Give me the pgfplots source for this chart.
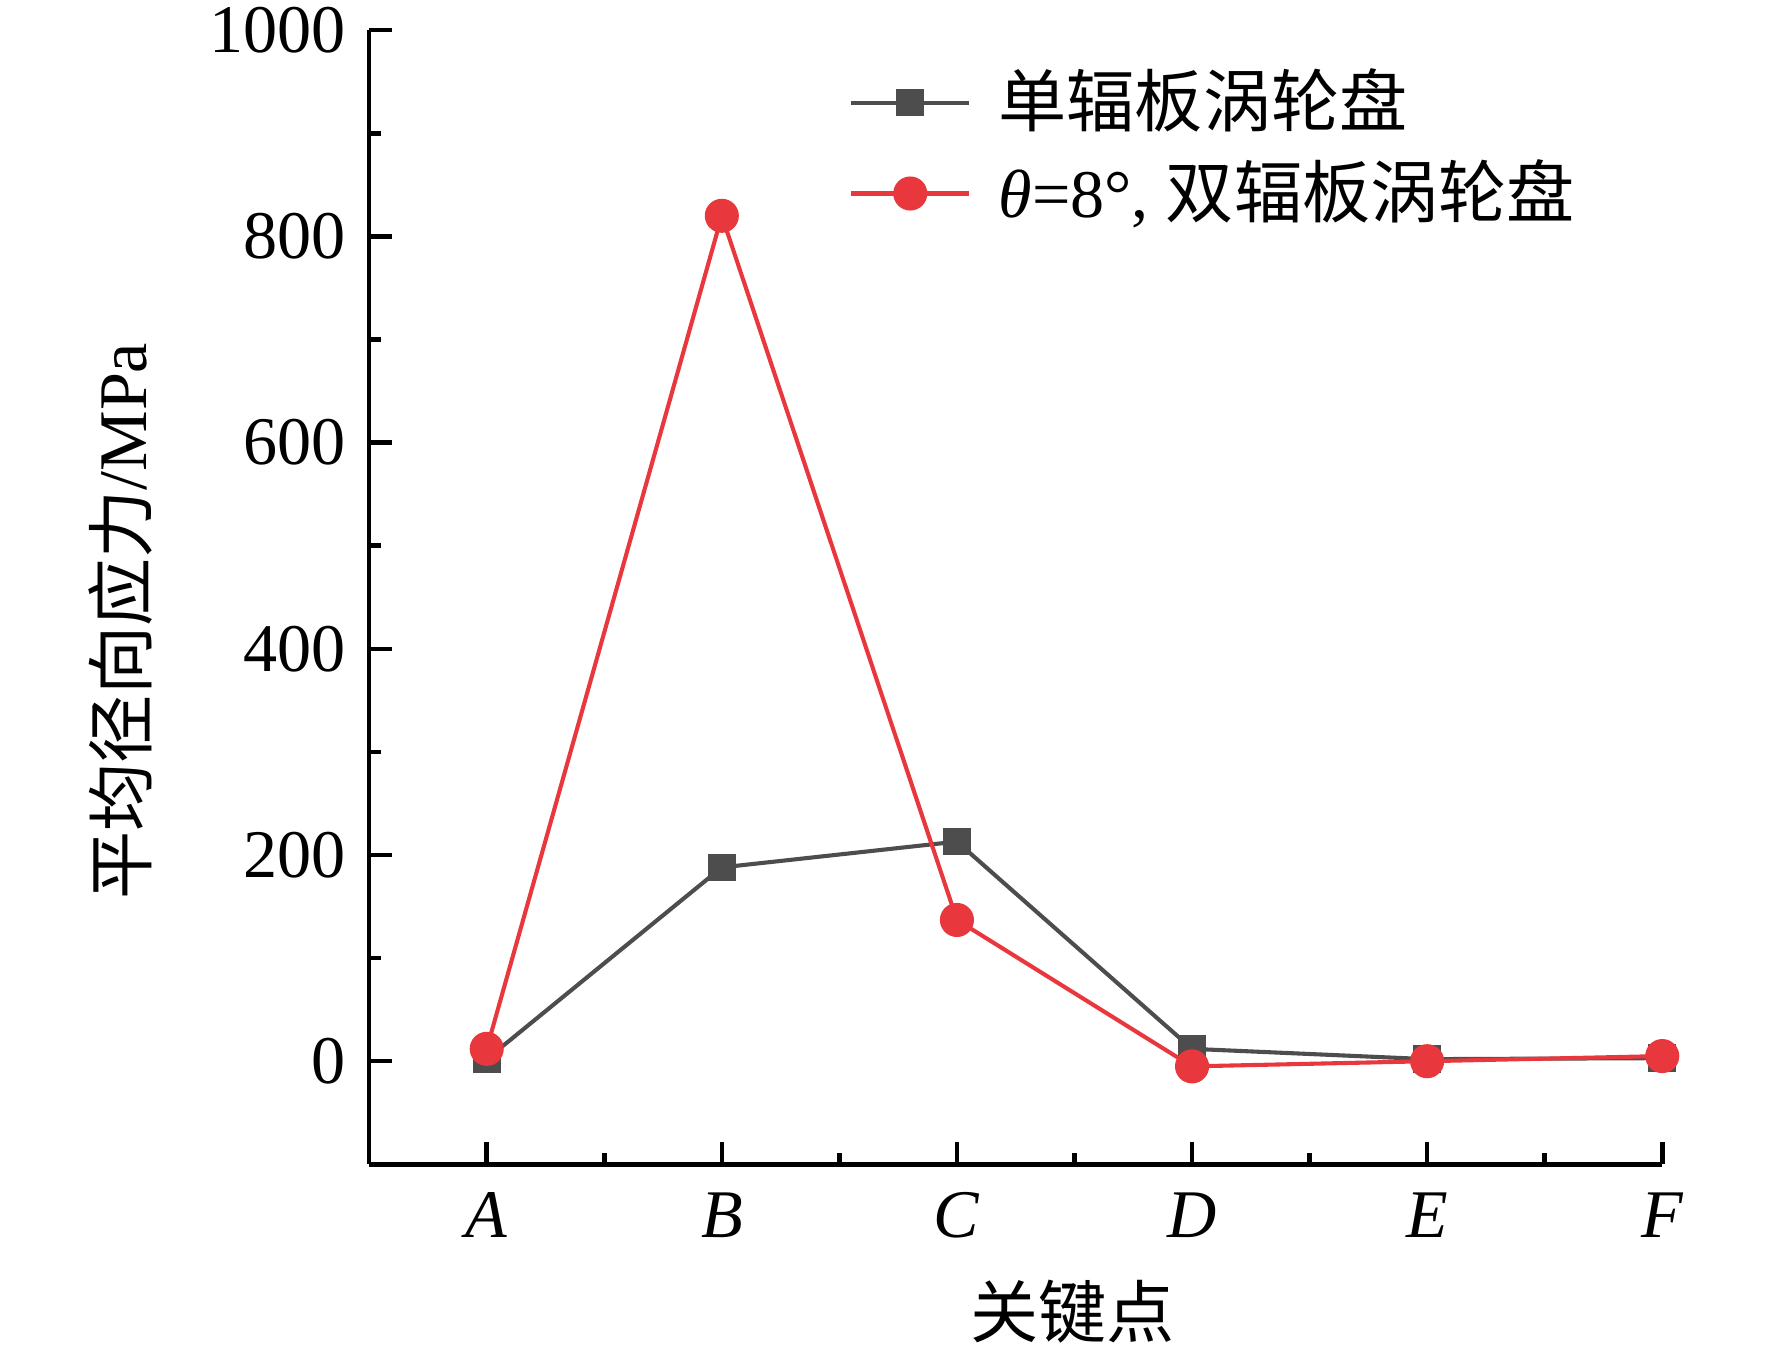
\documentclass[border=0pt]{standalone}
\usepackage{fontspec}
\setmainfont{Liberation Serif}
\newfontfamily\cjk{Noto Sans CJK SC}
\usepackage{pgfplots}
\pgfplotsset{compat=1.18}
\definecolor{sgray}{HTML}{4D4D4D}
\definecolor{sred}{HTML}{E8383D}
\begin{document}
\fontsize{15}{18}\selectfont
\begin{tikzpicture}
\begin{axis}[
  name=ax,
  scale only axis, width=284.6pt, height=249.6pt,
  xmin=-0.5, xmax=5, ymin=-100, ymax=1000,
  axis x line*=bottom, axis y line*=left,
  axis line style={line width=1pt, black},
  xtick={0,1,2,3,4,5},
  xticklabels={\textit{A},\textit{B},\textit{C},\textit{D},\textit{E},\textit{F}},
  minor x tick num=1,
  ytick={0,200,400,600,800,1000}, minor y tick num=1,
  tick align=inside, major tick length=5pt, minor tick length=2.5pt,
  every tick/.style={line width=1pt, black},
  tick label style={font=\fontsize{15}{18}\selectfont},
  /pgf/number format/assume math mode=true,
  /pgf/number format/1000 sep={},
  xticklabel style={yshift=-1pt},
  xlabel={\cjk 关键点},
  ylabel={{\cjk 平均径向应力}/MPa},
  label style={font=\fontsize{15}{18}\selectfont},
  xlabel style={at={(axis description cs:0.544,-0.130)}, anchor=center},
  ylabel style={at={(axis description cs:-0.192,0.479)}, anchor=center},
  legend style={draw=none, fill=none, at={(rel axis cs:0.3705,0.975)}, anchor=north west,
    font=\fontsize{15}{18}\selectfont, row sep=1pt, inner sep=0pt,
    /tikz/every even column/.append style={column sep=12pt}},
  legend cell align=left,
  legend image code/.code={\draw[mark repeat=2,mark phase=2,#1] plot coordinates {(0pt,0pt) (13pt,0pt) (26pt,0pt)};},
]
\addplot[sgray, line width=0.9pt, mark=square*, mark size=2.6pt, mark options={solid}]
  coordinates {(0,2)(1,188)(2,213)(3,12)(4,2)(5,3)};
\addlegendentry{\hspace*{4pt}\cjk 单辐板涡轮盘}
\addplot[sred, line width=0.9pt, mark=*, mark size=3.3pt]
  coordinates {(0,12)(1,820)(2,137)(3,-5)(4,0)(5,5)};
\addlegendentry{\hspace*{4pt}\textit{θ}=8°, {\cjk 双辐板涡轮盘}}
\end{axis}
\pgfresetboundingbox
\path[use as bounding box] (-81.25pt,-41.75pt) rectangle (308.75pt,256.25pt);
\end{tikzpicture}
\end{document}
